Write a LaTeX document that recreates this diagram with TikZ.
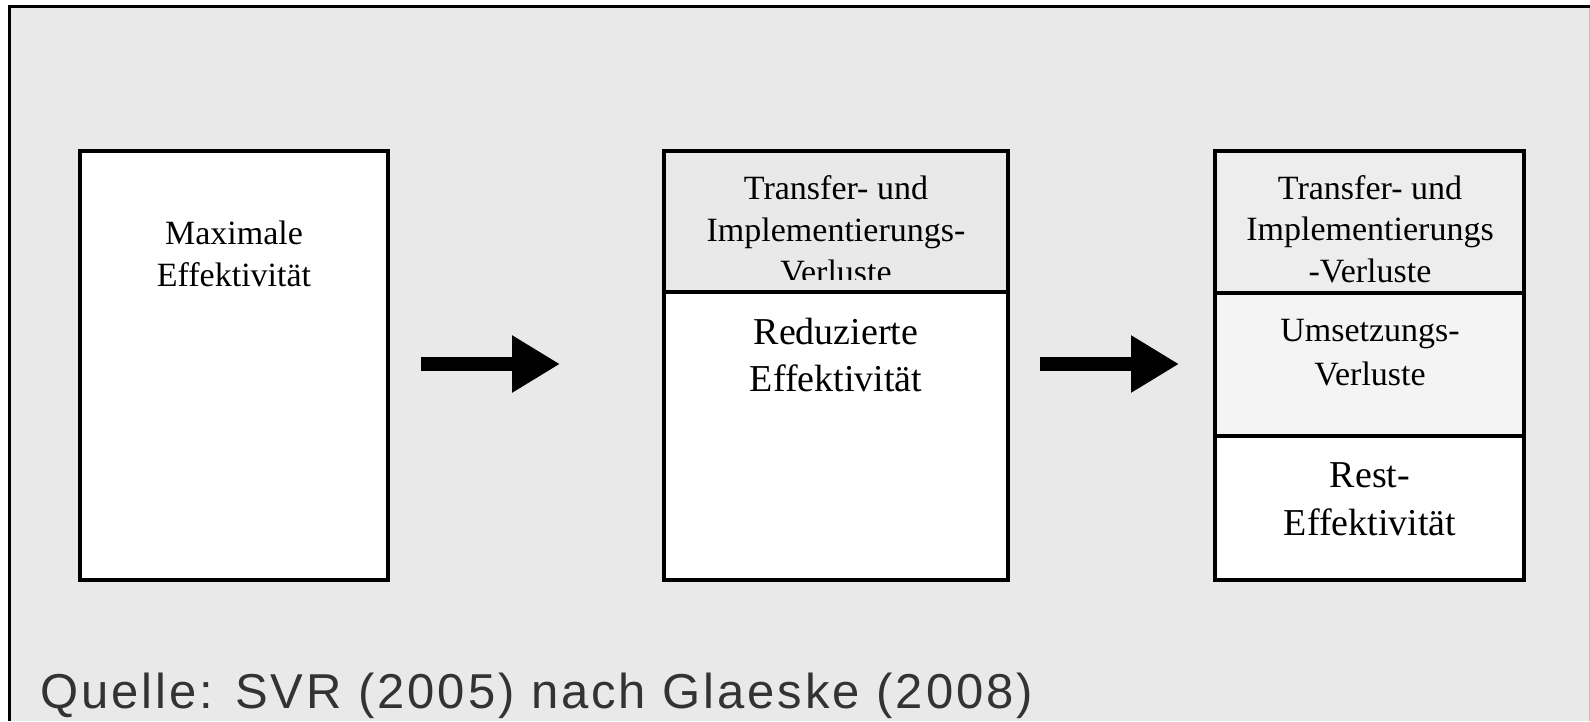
\documentclass[tikz,border=0pt]{standalone}
\usepackage{fontspec}
\setmainfont{Liberation Serif}
\newfontfamily\capfont[LetterSpace=6.0]{Liberation Sans}
\usetikzlibrary{arrows.meta}
\definecolor{bg}{HTML}{E9E9E9}
\definecolor{topgray}{HTML}{EDEDED}
\definecolor{midgray}{HTML}{F4F4F4}
\definecolor{captxt}{HTML}{333333}
\tikzset{
  sect/.style={draw=black, line width=3.5pt, fill=white, inner sep=0pt, outer sep=0pt, anchor=north west},
  txt/.style={font=\fontsize{34}{42}\selectfont, align=center, anchor=base, inner sep=0pt},
  bigtxt/.style={font=\fontsize{38}{47}\selectfont, align=center, anchor=base, inner sep=0pt},
  flowarrow/.style={line width=14pt, -{Triangle[length=48pt,width=54pt]}}
}
\begin{document}
\begin{tikzpicture}[x=1pt,y=-1pt]
\useasboundingbox (0,0) rectangle (1590,721);
\fill[white] (0,0) rectangle (1590,721);
\fill[bg] (9,6) rectangle (1590,721);
\draw[line width=3pt] (9.5,721) -- (9.5,6.5) -- (1590,6.5);
\draw[black!25, line width=1pt] (1589,8) -- (1589,721);

% box 1
\node[sect, minimum width=308, minimum height=429] (b1) at (80,151) {};
\node[txt] (t1) at (234,286) {Maximale\\Effektivität};

% box 2
\node[sect, fill=bg, minimum width=344, minimum height=141] (b2t) at (664,151) {};
\node[sect, minimum width=344, minimum height=288] (b2b) at (664,292) {};
\begin{scope}
  \clip (664,151) rectangle (1008,279);
  \node[txt] (t2t) at (836,283) {Transfer- und\\Implementierungs-\\Verluste};
\end{scope}
\node[bigtxt] (t2b) at (836,391) {Reduzierte\\Effektivität};

% box 3
\node[sect, fill=topgray, minimum width=309, minimum height=142] (b3t) at (1215,151) {};
\node[sect, fill=midgray, minimum width=309, minimum height=143] (b3m) at (1215,293) {};
\node[sect, minimum width=309, minimum height=144] (b3b) at (1215,436) {};
\node[txt, font=\fontsize{34}{41.5}\selectfont] (t3t) at (1370,282) {Transfer- und\\Implementierungs\\-Verluste};
\node[txt, font=\fontsize{34}{44}\selectfont] (t3m) at (1370,385) {Umsetzungs-\\Verluste};
\node[bigtxt, font=\fontsize{38}{48}\selectfont] (t3b) at (1370,535) {Rest-\\Effektivität};

% arrows
\coordinate (a1s) at (421,364);
\coordinate (a1e) at (560,364);
\coordinate (a2s) at (1040,364);
\coordinate (a2e) at (1179,364);
\draw[flowarrow] (a1s) -- (a1e);
\draw[flowarrow] (a2s) -- (a2e);

% caption
\node[anchor=base west, inner sep=0pt, text=captxt, font=\capfont\fontsize{49}{55}\selectfont] (cap) at (40,708) {Quelle: SVR (2005) nach Glaeske (2008)};
\end{tikzpicture}
\end{document}
